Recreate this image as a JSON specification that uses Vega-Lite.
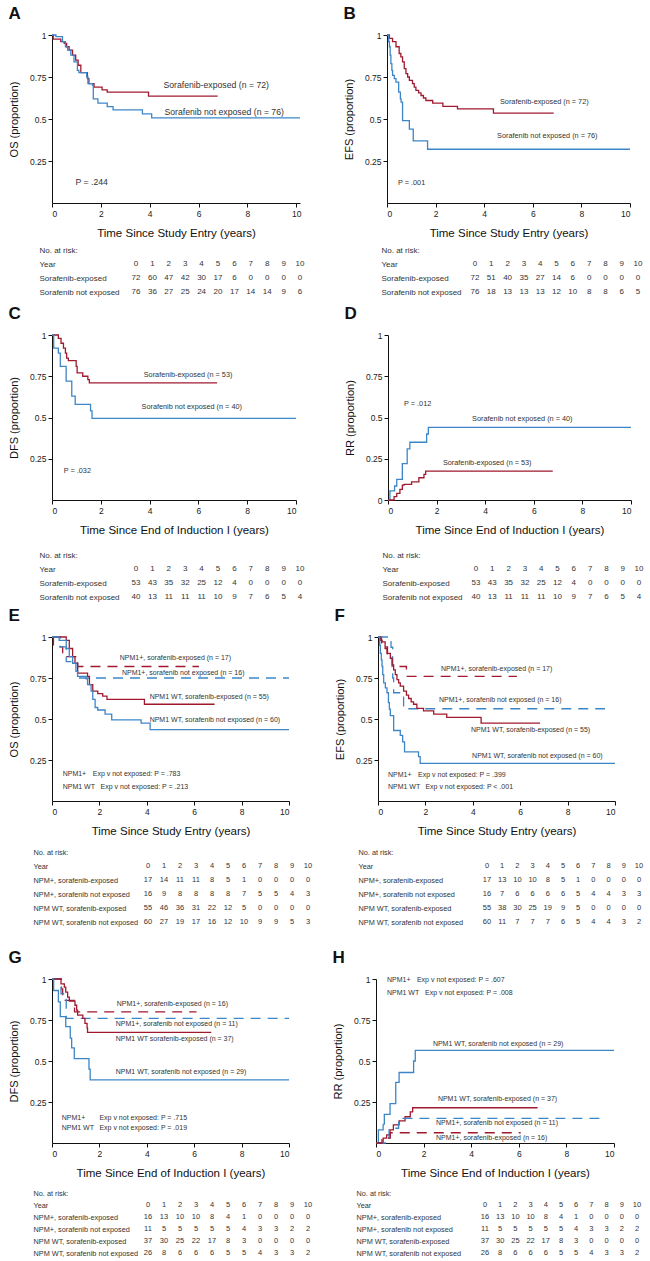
{
"$schema":"https://vega.github.io/schema/vega-lite/v6.json",
"background":"white",
"padding":{"left":8,"top":5,"right":0,"bottom":0},
"autosize":{"type":"pad"},
"datasets":{
"curves":[
{"p":"A","a":"exp","m":"all","t":0,"s":1},{"p":"A","a":"exp","m":"all","t":0.05,"s":0.975},{"p":"A","a":"exp","m":"all","t":0.36,"s":0.96},{"p":"A","a":"exp","m":"all","t":0.5,"s":0.95},{"p":"A","a":"exp","m":"all","t":0.6,"s":0.93},{"p":"A","a":"exp","m":"all","t":0.7,"s":0.91},{"p":"A","a":"exp","m":"all","t":0.84,"s":0.88},{"p":"A","a":"exp","m":"all","t":0.97,"s":0.85},{"p":"A","a":"exp","m":"all","t":1.07,"s":0.82},{"p":"A","a":"exp","m":"all","t":1.18,"s":0.776},{"p":"A","a":"exp","m":"all","t":1.45,"s":0.74},{"p":"A","a":"exp","m":"all","t":1.51,"s":0.71},{"p":"A","a":"exp","m":"all","t":1.72,"s":0.69},{"p":"A","a":"exp","m":"all","t":2.05,"s":0.673},{"p":"A","a":"exp","m":"all","t":2.26,"s":0.66},{"p":"A","a":"exp","m":"all","t":3.95,"s":0.636},{"p":"A","a":"exp","m":"all","t":6.78,"s":0.636},
{"p":"A","a":"not","m":"all","t":0,"s":1},{"p":"A","a":"not","m":"all","t":0.16,"s":0.99},{"p":"A","a":"not","m":"all","t":0.43,"s":0.96},{"p":"A","a":"not","m":"all","t":0.55,"s":0.93},{"p":"A","a":"not","m":"all","t":0.64,"s":0.91},{"p":"A","a":"not","m":"all","t":0.77,"s":0.88},{"p":"A","a":"not","m":"all","t":0.9,"s":0.84},{"p":"A","a":"not","m":"all","t":1.04,"s":0.79},{"p":"A","a":"not","m":"all","t":1.1,"s":0.776},{"p":"A","a":"not","m":"all","t":1.42,"s":0.75},{"p":"A","a":"not","m":"all","t":1.47,"s":0.71},{"p":"A","a":"not","m":"all","t":1.66,"s":0.7},{"p":"A","a":"not","m":"all","t":1.69,"s":0.62},{"p":"A","a":"not","m":"all","t":1.88,"s":0.594},{"p":"A","a":"not","m":"all","t":2.26,"s":0.574},{"p":"A","a":"not","m":"all","t":2.5,"s":0.554},{"p":"A","a":"not","m":"all","t":3.7,"s":0.53},{"p":"A","a":"not","m":"all","t":4.08,"s":0.507},{"p":"A","a":"not","m":"all","t":10.15,"s":0.507},
{"p":"B","a":"exp","m":"all","t":0,"s":1},{"p":"B","a":"exp","m":"all","t":0.1,"s":0.98},{"p":"B","a":"exp","m":"all","t":0.23,"s":0.96},{"p":"B","a":"exp","m":"all","t":0.37,"s":0.93},{"p":"B","a":"exp","m":"all","t":0.5,"s":0.89},{"p":"B","a":"exp","m":"all","t":0.57,"s":0.87},{"p":"B","a":"exp","m":"all","t":0.64,"s":0.84},{"p":"B","a":"exp","m":"all","t":0.71,"s":0.8},{"p":"B","a":"exp","m":"all","t":0.78,"s":0.77},{"p":"B","a":"exp","m":"all","t":0.85,"s":0.75},{"p":"B","a":"exp","m":"all","t":0.92,"s":0.73},{"p":"B","a":"exp","m":"all","t":1.05,"s":0.71},{"p":"B","a":"exp","m":"all","t":1.12,"s":0.69},{"p":"B","a":"exp","m":"all","t":1.19,"s":0.67},{"p":"B","a":"exp","m":"all","t":1.3,"s":0.655},{"p":"B","a":"exp","m":"all","t":1.4,"s":0.64},{"p":"B","a":"exp","m":"all","t":1.5,"s":0.625},{"p":"B","a":"exp","m":"all","t":1.6,"s":0.61},{"p":"B","a":"exp","m":"all","t":1.88,"s":0.595},{"p":"B","a":"exp","m":"all","t":2.3,"s":0.575},{"p":"B","a":"exp","m":"all","t":2.9,"s":0.56},{"p":"B","a":"exp","m":"all","t":4.38,"s":0.535},{"p":"B","a":"exp","m":"all","t":6.86,"s":0.535},
{"p":"B","a":"not","m":"all","t":0,"s":1},{"p":"B","a":"not","m":"all","t":0.07,"s":0.96},{"p":"B","a":"not","m":"all","t":0.1,"s":0.93},{"p":"B","a":"not","m":"all","t":0.13,"s":0.88},{"p":"B","a":"not","m":"all","t":0.16,"s":0.83},{"p":"B","a":"not","m":"all","t":0.2,"s":0.79},{"p":"B","a":"not","m":"all","t":0.23,"s":0.76},{"p":"B","a":"not","m":"all","t":0.3,"s":0.74},{"p":"B","a":"not","m":"all","t":0.37,"s":0.72},{"p":"B","a":"not","m":"all","t":0.48,"s":0.66},{"p":"B","a":"not","m":"all","t":0.55,"s":0.62},{"p":"B","a":"not","m":"all","t":0.58,"s":0.6},{"p":"B","a":"not","m":"all","t":0.64,"s":0.49},{"p":"B","a":"not","m":"all","t":0.92,"s":0.44},{"p":"B","a":"not","m":"all","t":1.08,"s":0.37},{"p":"B","a":"not","m":"all","t":1.67,"s":0.32},{"p":"B","a":"not","m":"all","t":10,"s":0.32},
{"p":"C","a":"exp","m":"all","t":0,"s":1},{"p":"C","a":"exp","m":"all","t":0.26,"s":0.98},{"p":"C","a":"exp","m":"all","t":0.37,"s":0.95},{"p":"C","a":"exp","m":"all","t":0.47,"s":0.92},{"p":"C","a":"exp","m":"all","t":0.55,"s":0.89},{"p":"C","a":"exp","m":"all","t":0.6,"s":0.86},{"p":"C","a":"exp","m":"all","t":0.67,"s":0.845},{"p":"C","a":"exp","m":"all","t":0.99,"s":0.81},{"p":"C","a":"exp","m":"all","t":1.03,"s":0.77},{"p":"C","a":"exp","m":"all","t":1.26,"s":0.75},{"p":"C","a":"exp","m":"all","t":1.47,"s":0.73},{"p":"C","a":"exp","m":"all","t":1.53,"s":0.71},{"p":"C","a":"exp","m":"all","t":6.77,"s":0.71},
{"p":"C","a":"not","m":"all","t":0,"s":1},{"p":"C","a":"not","m":"all","t":0.07,"s":0.92},{"p":"C","a":"not","m":"all","t":0.26,"s":0.89},{"p":"C","a":"not","m":"all","t":0.34,"s":0.81},{"p":"C","a":"not","m":"all","t":0.58,"s":0.72},{"p":"C","a":"not","m":"all","t":0.81,"s":0.63},{"p":"C","a":"not","m":"all","t":0.95,"s":0.58},{"p":"C","a":"not","m":"all","t":1.58,"s":0.54},{"p":"C","a":"not","m":"all","t":1.64,"s":0.495},{"p":"C","a":"not","m":"all","t":10,"s":0.495},
{"p":"D","a":"not","m":"all","t":0,"s":0},{"p":"D","a":"not","m":"all","t":0.08,"s":0.055},{"p":"D","a":"not","m":"all","t":0.27,"s":0.085},{"p":"D","a":"not","m":"all","t":0.36,"s":0.125},{"p":"D","a":"not","m":"all","t":0.59,"s":0.22},{"p":"D","a":"not","m":"all","t":0.79,"s":0.31},{"p":"D","a":"not","m":"all","t":0.9,"s":0.35},{"p":"D","a":"not","m":"all","t":1.59,"s":0.4},{"p":"D","a":"not","m":"all","t":1.66,"s":0.44},{"p":"D","a":"not","m":"all","t":10,"s":0.44},
{"p":"D","a":"exp","m":"all","t":0,"s":0},{"p":"D","a":"exp","m":"all","t":0.25,"s":0.02},{"p":"D","a":"exp","m":"all","t":0.36,"s":0.04},{"p":"D","a":"exp","m":"all","t":0.49,"s":0.065},{"p":"D","a":"exp","m":"all","t":0.59,"s":0.09},{"p":"D","a":"exp","m":"all","t":0.66,"s":0.095},{"p":"D","a":"exp","m":"all","t":0.97,"s":0.11},{"p":"D","a":"exp","m":"all","t":1.27,"s":0.135},{"p":"D","a":"exp","m":"all","t":1.48,"s":0.155},{"p":"D","a":"exp","m":"all","t":1.55,"s":0.175},{"p":"D","a":"exp","m":"all","t":6.78,"s":0.175},
{"p":"E","a":"exp","m":"pos","t":0,"s":1},{"p":"E","a":"exp","m":"pos","t":0.06,"s":0.94},{"p":"E","a":"exp","m":"pos","t":0.45,"s":0.88},{"p":"E","a":"exp","m":"pos","t":1.08,"s":0.82},{"p":"E","a":"exp","m":"pos","t":6.2,"s":0.82},
{"p":"E","a":"not","m":"pos","t":0,"s":1},{"p":"E","a":"not","m":"pos","t":0.35,"s":0.94},{"p":"E","a":"not","m":"pos","t":0.6,"s":0.85},{"p":"E","a":"not","m":"pos","t":1.08,"s":0.75},{"p":"E","a":"not","m":"pos","t":10,"s":0.75},
{"p":"E","a":"exp","m":"wt","t":0,"s":1},{"p":"E","a":"exp","m":"wt","t":0.6,"s":0.98},{"p":"E","a":"exp","m":"wt","t":0.73,"s":0.93},{"p":"E","a":"exp","m":"wt","t":0.87,"s":0.88},{"p":"E","a":"exp","m":"wt","t":0.97,"s":0.84},{"p":"E","a":"exp","m":"wt","t":1.08,"s":0.78},{"p":"E","a":"exp","m":"wt","t":1.5,"s":0.76},{"p":"E","a":"exp","m":"wt","t":1.58,"s":0.71},{"p":"E","a":"exp","m":"wt","t":1.72,"s":0.67},{"p":"E","a":"exp","m":"wt","t":1.93,"s":0.655},{"p":"E","a":"exp","m":"wt","t":2.14,"s":0.64},{"p":"E","a":"exp","m":"wt","t":2.32,"s":0.62},{"p":"E","a":"exp","m":"wt","t":3.9,"s":0.59},{"p":"E","a":"exp","m":"wt","t":6.86,"s":0.59},
{"p":"E","a":"not","m":"wt","t":0,"s":1},{"p":"E","a":"not","m":"wt","t":0.3,"s":0.98},{"p":"E","a":"not","m":"wt","t":0.6,"s":0.93},{"p":"E","a":"not","m":"wt","t":0.73,"s":0.88},{"p":"E","a":"not","m":"wt","t":0.87,"s":0.84},{"p":"E","a":"not","m":"wt","t":1.01,"s":0.79},{"p":"E","a":"not","m":"wt","t":1.08,"s":0.76},{"p":"E","a":"not","m":"wt","t":1.44,"s":0.745},{"p":"E","a":"not","m":"wt","t":1.5,"s":0.71},{"p":"E","a":"not","m":"wt","t":1.65,"s":0.67},{"p":"E","a":"not","m":"wt","t":1.72,"s":0.62},{"p":"E","a":"not","m":"wt","t":1.82,"s":0.57},{"p":"E","a":"not","m":"wt","t":1.93,"s":0.555},{"p":"E","a":"not","m":"wt","t":2.24,"s":0.53},{"p":"E","a":"not","m":"wt","t":2.52,"s":0.495},{"p":"E","a":"not","m":"wt","t":3.76,"s":0.475},{"p":"E","a":"not","m":"wt","t":4.14,"s":0.435},{"p":"E","a":"not","m":"wt","t":10,"s":0.435},
{"p":"F","a":"exp","m":"pos","t":0,"s":1},{"p":"F","a":"exp","m":"pos","t":0.15,"s":0.94},{"p":"F","a":"exp","m":"pos","t":0.4,"s":0.88},{"p":"F","a":"exp","m":"pos","t":0.6,"s":0.82},{"p":"F","a":"exp","m":"pos","t":1.2,"s":0.76},{"p":"F","a":"exp","m":"pos","t":5.86,"s":0.76},
{"p":"F","a":"not","m":"pos","t":0,"s":1},{"p":"F","a":"not","m":"pos","t":0.55,"s":0.9375},{"p":"F","a":"not","m":"pos","t":0.62,"s":0.75},{"p":"F","a":"not","m":"pos","t":0.66,"s":0.66},{"p":"F","a":"not","m":"pos","t":1.08,"s":0.5625},{"p":"F","a":"not","m":"pos","t":9.58,"s":0.5625},
{"p":"F","a":"exp","m":"wt","t":0,"s":1},{"p":"F","a":"exp","m":"wt","t":0.1,"s":0.98},{"p":"F","a":"exp","m":"wt","t":0.17,"s":0.97},{"p":"F","a":"exp","m":"wt","t":0.3,"s":0.93},{"p":"F","a":"exp","m":"wt","t":0.38,"s":0.9},{"p":"F","a":"exp","m":"wt","t":0.52,"s":0.87},{"p":"F","a":"exp","m":"wt","t":0.6,"s":0.83},{"p":"F","a":"exp","m":"wt","t":0.66,"s":0.8},{"p":"F","a":"exp","m":"wt","t":0.73,"s":0.77},{"p":"F","a":"exp","m":"wt","t":0.8,"s":0.74},{"p":"F","a":"exp","m":"wt","t":0.87,"s":0.72},{"p":"F","a":"exp","m":"wt","t":0.94,"s":0.7},{"p":"F","a":"exp","m":"wt","t":1.08,"s":0.67},{"p":"F","a":"exp","m":"wt","t":1.2,"s":0.645},{"p":"F","a":"exp","m":"wt","t":1.29,"s":0.625},{"p":"F","a":"exp","m":"wt","t":1.4,"s":0.605},{"p":"F","a":"exp","m":"wt","t":1.5,"s":0.59},{"p":"F","a":"exp","m":"wt","t":1.64,"s":0.565},{"p":"F","a":"exp","m":"wt","t":1.92,"s":0.55},{"p":"F","a":"exp","m":"wt","t":2.35,"s":0.53},{"p":"F","a":"exp","m":"wt","t":2.9,"s":0.51},{"p":"F","a":"exp","m":"wt","t":4.35,"s":0.475},{"p":"F","a":"exp","m":"wt","t":6.84,"s":0.475},
{"p":"F","a":"not","m":"wt","t":0,"s":1},{"p":"F","a":"not","m":"wt","t":0.07,"s":0.95},{"p":"F","a":"not","m":"wt","t":0.1,"s":0.9},{"p":"F","a":"not","m":"wt","t":0.14,"s":0.86},{"p":"F","a":"not","m":"wt","t":0.17,"s":0.82},{"p":"F","a":"not","m":"wt","t":0.2,"s":0.77},{"p":"F","a":"not","m":"wt","t":0.24,"s":0.72},{"p":"F","a":"not","m":"wt","t":0.31,"s":0.69},{"p":"F","a":"not","m":"wt","t":0.38,"s":0.66},{"p":"F","a":"not","m":"wt","t":0.44,"s":0.6},{"p":"F","a":"not","m":"wt","t":0.48,"s":0.56},{"p":"F","a":"not","m":"wt","t":0.52,"s":0.52},{"p":"F","a":"not","m":"wt","t":0.66,"s":0.43},{"p":"F","a":"not","m":"wt","t":0.94,"s":0.4},{"p":"F","a":"not","m":"wt","t":1.04,"s":0.36},{"p":"F","a":"not","m":"wt","t":1.12,"s":0.3},{"p":"F","a":"not","m":"wt","t":1.71,"s":0.27},{"p":"F","a":"not","m":"wt","t":1.78,"s":0.23},{"p":"F","a":"not","m":"wt","t":10,"s":0.23},
{"p":"G","a":"exp","m":"pos","t":0,"s":1},{"p":"G","a":"exp","m":"pos","t":0.4,"s":0.94},{"p":"G","a":"exp","m":"pos","t":0.45,"s":0.87},{"p":"G","a":"exp","m":"pos","t":0.95,"s":0.8},{"p":"G","a":"exp","m":"pos","t":6.1,"s":0.8},
{"p":"G","a":"not","m":"pos","t":0,"s":1},{"p":"G","a":"not","m":"pos","t":0.38,"s":0.91},{"p":"G","a":"not","m":"pos","t":0.6,"s":0.76},{"p":"G","a":"not","m":"pos","t":10,"s":0.76},
{"p":"G","a":"exp","m":"wt","t":0,"s":1},{"p":"G","a":"exp","m":"wt","t":0.38,"s":0.97},{"p":"G","a":"exp","m":"wt","t":0.52,"s":0.95},{"p":"G","a":"exp","m":"wt","t":0.58,"s":0.92},{"p":"G","a":"exp","m":"wt","t":0.66,"s":0.89},{"p":"G","a":"exp","m":"wt","t":0.73,"s":0.865},{"p":"G","a":"exp","m":"wt","t":0.97,"s":0.84},{"p":"G","a":"exp","m":"wt","t":1.04,"s":0.81},{"p":"G","a":"exp","m":"wt","t":1.08,"s":0.78},{"p":"G","a":"exp","m":"wt","t":1.3,"s":0.76},{"p":"G","a":"exp","m":"wt","t":1.39,"s":0.73},{"p":"G","a":"exp","m":"wt","t":1.48,"s":0.7},{"p":"G","a":"exp","m":"wt","t":1.5,"s":0.675},{"p":"G","a":"exp","m":"wt","t":6.72,"s":0.675},
{"p":"G","a":"not","m":"wt","t":0,"s":1},{"p":"G","a":"not","m":"wt","t":0.07,"s":0.93},{"p":"G","a":"not","m":"wt","t":0.27,"s":0.86},{"p":"G","a":"not","m":"wt","t":0.35,"s":0.77},{"p":"G","a":"not","m":"wt","t":0.58,"s":0.71},{"p":"G","a":"not","m":"wt","t":0.77,"s":0.64},{"p":"G","a":"not","m":"wt","t":0.83,"s":0.58},{"p":"G","a":"not","m":"wt","t":0.94,"s":0.515},{"p":"G","a":"not","m":"wt","t":1.56,"s":0.45},{"p":"G","a":"not","m":"wt","t":1.61,"s":0.385},{"p":"G","a":"not","m":"wt","t":10,"s":0.385},
{"p":"H","a":"not","m":"wt","t":0,"s":0},{"p":"H","a":"not","m":"wt","t":0.1,"s":0.08},{"p":"H","a":"not","m":"wt","t":0.3,"s":0.115},{"p":"H","a":"not","m":"wt","t":0.35,"s":0.175},{"p":"H","a":"not","m":"wt","t":0.59,"s":0.24},{"p":"H","a":"not","m":"wt","t":0.83,"s":0.37},{"p":"H","a":"not","m":"wt","t":0.97,"s":0.43},{"p":"H","a":"not","m":"wt","t":1.58,"s":0.5},{"p":"H","a":"not","m":"wt","t":1.65,"s":0.565},{"p":"H","a":"not","m":"wt","t":10,"s":0.565},
{"p":"H","a":"exp","m":"wt","t":0,"s":0},{"p":"H","a":"exp","m":"wt","t":0.3,"s":0.03},{"p":"H","a":"exp","m":"wt","t":0.45,"s":0.05},{"p":"H","a":"exp","m":"wt","t":0.59,"s":0.08},{"p":"H","a":"exp","m":"wt","t":0.73,"s":0.11},{"p":"H","a":"exp","m":"wt","t":0.97,"s":0.135},{"p":"H","a":"exp","m":"wt","t":1.22,"s":0.16},{"p":"H","a":"exp","m":"wt","t":1.44,"s":0.19},{"p":"H","a":"exp","m":"wt","t":1.54,"s":0.215},{"p":"H","a":"exp","m":"wt","t":6.79,"s":0.215},
{"p":"H","a":"not","m":"pos","t":0,"s":0},{"p":"H","a":"not","m":"pos","t":0.55,"s":0.09},{"p":"H","a":"not","m":"pos","t":0.95,"s":0.15},{"p":"H","a":"not","m":"pos","t":9.6,"s":0.15},
{"p":"H","a":"exp","m":"pos","t":0,"s":0},{"p":"H","a":"exp","m":"pos","t":0.25,"s":0.03},{"p":"H","a":"exp","m":"pos","t":0.6,"s":0.0625},{"p":"H","a":"exp","m":"pos","t":6.08,"s":0.0625}
],
"notes":[
{"p":"A","t":4.56,"s":0.703,"label":"Sorafenib-exposed (n = 72)"},{"p":"A","t":4.6,"s":0.543,"label":"Sorafenib not exposed (n = 76)"},{"p":"A","t":0.96,"s":0.127,"label":"P = .244"},
{"p":"B","t":4.65,"s":0.604,"label":"Sorafenib-exposed (n = 72)"},{"p":"B","t":4.53,"s":0.4,"label":"Sorafenib not exposed (n = 76)"},{"p":"B","t":0.45,"s":0.12,"label":"P = .001"},
{"p":"C","t":3.76,"s":0.758,"label":"Sorafenib-exposed (n = 53)"},{"p":"C","t":3.67,"s":0.564,"label":"Sorafenib not exposed (n = 40)"},{"p":"C","t":0.48,"s":0.176,"label":"P = .032"},
{"p":"D","t":0.66,"s":0.584,"label":"P = .012"},{"p":"D","t":3.46,"s":0.488,"label":"Sorafenib not exposed (n = 40)"},{"p":"D","t":2.26,"s":0.223,"label":"Sorafenib-exposed (n = 53)"},
{"p":"E","t":2.86,"s":0.87,"label":"NPM1+, sorafenib-exposed (n = 17)"},{"p":"E","t":2.95,"s":0.778,"label":"NPM1+, sorafenib not exposed (n = 16)"},{"p":"E","t":4.12,"s":0.636,"label":"NPM1 WT, sorafenib-exposed (n = 55)"},{"p":"E","t":4.12,"s":0.494,"label":"NPM1 WT, sorafenib not exposed (n = 60)"},{"p":"E","t":0.45,"s":0.167,"label":"NPM1+"},{"p":"E","t":1.72,"s":0.167,"label":"Exp v not exposed: P = .783"},{"p":"E","t":0.45,"s":0.086,"label":"NPM1 WT"},{"p":"E","t":2.05,"s":0.086,"label":"Exp v not exposed: P = .213"},
{"p":"F","t":2.66,"s":0.807,"label":"NPM1+, sorafenib-exposed (n = 17)"},{"p":"F","t":2.57,"s":0.614,"label":"NPM1+, sorafenib not exposed (n = 16)"},{"p":"F","t":3.92,"s":0.434,"label":"NPM1 WT, sorafenib-exposed (n = 55)"},{"p":"F","t":3.97,"s":0.277,"label":"NPM1 WT, sorafenib not exposed (n = 60)"},{"p":"F","t":0.42,"s":0.157,"label":"NPM1+"},{"p":"F","t":1.69,"s":0.157,"label":"Exp v not exposed: P = .399"},{"p":"F","t":0.42,"s":0.084,"label":"NPM1  WT"},{"p":"F","t":2.0,"s":0.084,"label":"Exp v not exposed: P < .001"},
{"p":"G","t":2.73,"s":0.848,"label":"NPM1+, sorafenib-exposed (n = 16)"},{"p":"G","t":2.69,"s":0.726,"label":"NPM1+, sorafenib not exposed (n = 11)"},{"p":"G","t":2.69,"s":0.634,"label":"NPM1 WT sorafenib-exposed (n = 37)"},{"p":"G","t":2.69,"s":0.433,"label":"NPM1 WT, sorafenib not exposed (n = 29)"},{"p":"G","t":0.41,"s":0.152,"label":"NPM1+"},{"p":"G","t":2.0,"s":0.152,"label":"Exp v not exposed: P = .715"},{"p":"G","t":0.41,"s":0.091,"label":"NPM1 WT"},{"p":"G","t":2.0,"s":0.091,"label":"Exp v not exposed: P = .019"},
{"p":"H","t":0.46,"s":0.994,"label":"NPM1+"},{"p":"H","t":1.72,"s":0.994,"label":"Exp v not exposed: P = .607"},{"p":"H","t":0.46,"s":0.915,"label":"NPM1 WT"},{"p":"H","t":2.06,"s":0.915,"label":"Exp v not exposed: P = .008"},{"p":"H","t":2.39,"s":0.604,"label":"NPM1 WT, sorafenib not exposed (n = 29)"},{"p":"H","t":2.6,"s":0.268,"label":"NPM1 WT, sorafenib-exposed (n = 37)"},{"p":"H","t":2.52,"s":0.122,"label":"NPM1+, sorafenib not exposed (n = 11)"},{"p":"H","t":2.52,"s":0.03,"label":"NPM1+, sorafenib-exposed (n = 16)"}
],
"years":[
{"r":"Year","yr":0,"n":0},{"r":"Year","yr":1,"n":1},{"r":"Year","yr":2,"n":2},{"r":"Year","yr":3,"n":3},{"r":"Year","yr":4,"n":4},{"r":"Year","yr":5,"n":5},{"r":"Year","yr":6,"n":6},{"r":"Year","yr":7,"n":7},{"r":"Year","yr":8,"n":8},{"r":"Year","yr":9,"n":9},{"r":"Year","yr":10,"n":10}
],
"risk":[
{"p":"A","r":"Sorafenib-exposed","yr":0,"n":72},{"p":"A","r":"Sorafenib-exposed","yr":1,"n":60},{"p":"A","r":"Sorafenib-exposed","yr":2,"n":47},{"p":"A","r":"Sorafenib-exposed","yr":3,"n":42},{"p":"A","r":"Sorafenib-exposed","yr":4,"n":30},{"p":"A","r":"Sorafenib-exposed","yr":5,"n":17},{"p":"A","r":"Sorafenib-exposed","yr":6,"n":6},{"p":"A","r":"Sorafenib-exposed","yr":7,"n":0},{"p":"A","r":"Sorafenib-exposed","yr":8,"n":0},{"p":"A","r":"Sorafenib-exposed","yr":9,"n":0},{"p":"A","r":"Sorafenib-exposed","yr":10,"n":0},
{"p":"A","r":"Sorafenib not exposed","yr":0,"n":76},{"p":"A","r":"Sorafenib not exposed","yr":1,"n":36},{"p":"A","r":"Sorafenib not exposed","yr":2,"n":27},{"p":"A","r":"Sorafenib not exposed","yr":3,"n":25},{"p":"A","r":"Sorafenib not exposed","yr":4,"n":24},{"p":"A","r":"Sorafenib not exposed","yr":5,"n":20},{"p":"A","r":"Sorafenib not exposed","yr":6,"n":17},{"p":"A","r":"Sorafenib not exposed","yr":7,"n":14},{"p":"A","r":"Sorafenib not exposed","yr":8,"n":14},{"p":"A","r":"Sorafenib not exposed","yr":9,"n":9},{"p":"A","r":"Sorafenib not exposed","yr":10,"n":6},
{"p":"B","r":"Sorafenib-exposed","yr":0,"n":72},{"p":"B","r":"Sorafenib-exposed","yr":1,"n":51},{"p":"B","r":"Sorafenib-exposed","yr":2,"n":40},{"p":"B","r":"Sorafenib-exposed","yr":3,"n":35},{"p":"B","r":"Sorafenib-exposed","yr":4,"n":27},{"p":"B","r":"Sorafenib-exposed","yr":5,"n":14},{"p":"B","r":"Sorafenib-exposed","yr":6,"n":6},{"p":"B","r":"Sorafenib-exposed","yr":7,"n":0},{"p":"B","r":"Sorafenib-exposed","yr":8,"n":0},{"p":"B","r":"Sorafenib-exposed","yr":9,"n":0},{"p":"B","r":"Sorafenib-exposed","yr":10,"n":0},
{"p":"B","r":"Sorafenib not exposed","yr":0,"n":76},{"p":"B","r":"Sorafenib not exposed","yr":1,"n":18},{"p":"B","r":"Sorafenib not exposed","yr":2,"n":13},{"p":"B","r":"Sorafenib not exposed","yr":3,"n":13},{"p":"B","r":"Sorafenib not exposed","yr":4,"n":13},{"p":"B","r":"Sorafenib not exposed","yr":5,"n":12},{"p":"B","r":"Sorafenib not exposed","yr":6,"n":10},{"p":"B","r":"Sorafenib not exposed","yr":7,"n":8},{"p":"B","r":"Sorafenib not exposed","yr":8,"n":8},{"p":"B","r":"Sorafenib not exposed","yr":9,"n":6},{"p":"B","r":"Sorafenib not exposed","yr":10,"n":5},
{"p":"C","r":"Sorafenib-exposed","yr":0,"n":53},{"p":"C","r":"Sorafenib-exposed","yr":1,"n":43},{"p":"C","r":"Sorafenib-exposed","yr":2,"n":35},{"p":"C","r":"Sorafenib-exposed","yr":3,"n":32},{"p":"C","r":"Sorafenib-exposed","yr":4,"n":25},{"p":"C","r":"Sorafenib-exposed","yr":5,"n":12},{"p":"C","r":"Sorafenib-exposed","yr":6,"n":4},{"p":"C","r":"Sorafenib-exposed","yr":7,"n":0},{"p":"C","r":"Sorafenib-exposed","yr":8,"n":0},{"p":"C","r":"Sorafenib-exposed","yr":9,"n":0},{"p":"C","r":"Sorafenib-exposed","yr":10,"n":0},
{"p":"C","r":"Sorafenib not exposed","yr":0,"n":40},{"p":"C","r":"Sorafenib not exposed","yr":1,"n":13},{"p":"C","r":"Sorafenib not exposed","yr":2,"n":11},{"p":"C","r":"Sorafenib not exposed","yr":3,"n":11},{"p":"C","r":"Sorafenib not exposed","yr":4,"n":11},{"p":"C","r":"Sorafenib not exposed","yr":5,"n":10},{"p":"C","r":"Sorafenib not exposed","yr":6,"n":9},{"p":"C","r":"Sorafenib not exposed","yr":7,"n":7},{"p":"C","r":"Sorafenib not exposed","yr":8,"n":6},{"p":"C","r":"Sorafenib not exposed","yr":9,"n":5},{"p":"C","r":"Sorafenib not exposed","yr":10,"n":4},
{"p":"D","r":"Sorafenib-exposed","yr":0,"n":53},{"p":"D","r":"Sorafenib-exposed","yr":1,"n":43},{"p":"D","r":"Sorafenib-exposed","yr":2,"n":35},{"p":"D","r":"Sorafenib-exposed","yr":3,"n":32},{"p":"D","r":"Sorafenib-exposed","yr":4,"n":25},{"p":"D","r":"Sorafenib-exposed","yr":5,"n":12},{"p":"D","r":"Sorafenib-exposed","yr":6,"n":4},{"p":"D","r":"Sorafenib-exposed","yr":7,"n":0},{"p":"D","r":"Sorafenib-exposed","yr":8,"n":0},{"p":"D","r":"Sorafenib-exposed","yr":9,"n":0},{"p":"D","r":"Sorafenib-exposed","yr":10,"n":0},
{"p":"D","r":"Sorafenib not exposed","yr":0,"n":40},{"p":"D","r":"Sorafenib not exposed","yr":1,"n":13},{"p":"D","r":"Sorafenib not exposed","yr":2,"n":11},{"p":"D","r":"Sorafenib not exposed","yr":3,"n":11},{"p":"D","r":"Sorafenib not exposed","yr":4,"n":11},{"p":"D","r":"Sorafenib not exposed","yr":5,"n":10},{"p":"D","r":"Sorafenib not exposed","yr":6,"n":9},{"p":"D","r":"Sorafenib not exposed","yr":7,"n":7},{"p":"D","r":"Sorafenib not exposed","yr":8,"n":6},{"p":"D","r":"Sorafenib not exposed","yr":9,"n":5},{"p":"D","r":"Sorafenib not exposed","yr":10,"n":4},
{"p":"E","r":"NPM+, sorafenib-exposed","yr":0,"n":17},{"p":"E","r":"NPM+, sorafenib-exposed","yr":1,"n":14},{"p":"E","r":"NPM+, sorafenib-exposed","yr":2,"n":11},{"p":"E","r":"NPM+, sorafenib-exposed","yr":3,"n":11},{"p":"E","r":"NPM+, sorafenib-exposed","yr":4,"n":8},{"p":"E","r":"NPM+, sorafenib-exposed","yr":5,"n":5},{"p":"E","r":"NPM+, sorafenib-exposed","yr":6,"n":1},{"p":"E","r":"NPM+, sorafenib-exposed","yr":7,"n":0},{"p":"E","r":"NPM+, sorafenib-exposed","yr":8,"n":0},{"p":"E","r":"NPM+, sorafenib-exposed","yr":9,"n":0},{"p":"E","r":"NPM+, sorafenib-exposed","yr":10,"n":0},
{"p":"E","r":"NPM+, sorafenib not exposed","yr":0,"n":16},{"p":"E","r":"NPM+, sorafenib not exposed","yr":1,"n":9},{"p":"E","r":"NPM+, sorafenib not exposed","yr":2,"n":8},{"p":"E","r":"NPM+, sorafenib not exposed","yr":3,"n":8},{"p":"E","r":"NPM+, sorafenib not exposed","yr":4,"n":8},{"p":"E","r":"NPM+, sorafenib not exposed","yr":5,"n":8},{"p":"E","r":"NPM+, sorafenib not exposed","yr":6,"n":7},{"p":"E","r":"NPM+, sorafenib not exposed","yr":7,"n":5},{"p":"E","r":"NPM+, sorafenib not exposed","yr":8,"n":5},{"p":"E","r":"NPM+, sorafenib not exposed","yr":9,"n":4},{"p":"E","r":"NPM+, sorafenib not exposed","yr":10,"n":3},
{"p":"E","r":"NPM WT, sorafenib-exposed","yr":0,"n":55},{"p":"E","r":"NPM WT, sorafenib-exposed","yr":1,"n":46},{"p":"E","r":"NPM WT, sorafenib-exposed","yr":2,"n":36},{"p":"E","r":"NPM WT, sorafenib-exposed","yr":3,"n":31},{"p":"E","r":"NPM WT, sorafenib-exposed","yr":4,"n":22},{"p":"E","r":"NPM WT, sorafenib-exposed","yr":5,"n":12},{"p":"E","r":"NPM WT, sorafenib-exposed","yr":6,"n":5},{"p":"E","r":"NPM WT, sorafenib-exposed","yr":7,"n":0},{"p":"E","r":"NPM WT, sorafenib-exposed","yr":8,"n":0},{"p":"E","r":"NPM WT, sorafenib-exposed","yr":9,"n":0},{"p":"E","r":"NPM WT, sorafenib-exposed","yr":10,"n":0},
{"p":"E","r":"NPM WT, sorafenib not exposed","yr":0,"n":60},{"p":"E","r":"NPM WT, sorafenib not exposed","yr":1,"n":27},{"p":"E","r":"NPM WT, sorafenib not exposed","yr":2,"n":19},{"p":"E","r":"NPM WT, sorafenib not exposed","yr":3,"n":17},{"p":"E","r":"NPM WT, sorafenib not exposed","yr":4,"n":16},{"p":"E","r":"NPM WT, sorafenib not exposed","yr":5,"n":12},{"p":"E","r":"NPM WT, sorafenib not exposed","yr":6,"n":10},{"p":"E","r":"NPM WT, sorafenib not exposed","yr":7,"n":9},{"p":"E","r":"NPM WT, sorafenib not exposed","yr":8,"n":9},{"p":"E","r":"NPM WT, sorafenib not exposed","yr":9,"n":5},{"p":"E","r":"NPM WT, sorafenib not exposed","yr":10,"n":3},
{"p":"F","r":"NPM+, sorafenib-exposed","yr":0,"n":17},{"p":"F","r":"NPM+, sorafenib-exposed","yr":1,"n":13},{"p":"F","r":"NPM+, sorafenib-exposed","yr":2,"n":10},{"p":"F","r":"NPM+, sorafenib-exposed","yr":3,"n":10},{"p":"F","r":"NPM+, sorafenib-exposed","yr":4,"n":8},{"p":"F","r":"NPM+, sorafenib-exposed","yr":5,"n":5},{"p":"F","r":"NPM+, sorafenib-exposed","yr":6,"n":1},{"p":"F","r":"NPM+, sorafenib-exposed","yr":7,"n":0},{"p":"F","r":"NPM+, sorafenib-exposed","yr":8,"n":0},{"p":"F","r":"NPM+, sorafenib-exposed","yr":9,"n":0},{"p":"F","r":"NPM+, sorafenib-exposed","yr":10,"n":0},
{"p":"F","r":"NPM+, sorafenib not exposed","yr":0,"n":16},{"p":"F","r":"NPM+, sorafenib not exposed","yr":1,"n":7},{"p":"F","r":"NPM+, sorafenib not exposed","yr":2,"n":6},{"p":"F","r":"NPM+, sorafenib not exposed","yr":3,"n":6},{"p":"F","r":"NPM+, sorafenib not exposed","yr":4,"n":6},{"p":"F","r":"NPM+, sorafenib not exposed","yr":5,"n":6},{"p":"F","r":"NPM+, sorafenib not exposed","yr":6,"n":5},{"p":"F","r":"NPM+, sorafenib not exposed","yr":7,"n":4},{"p":"F","r":"NPM+, sorafenib not exposed","yr":8,"n":4},{"p":"F","r":"NPM+, sorafenib not exposed","yr":9,"n":3},{"p":"F","r":"NPM+, sorafenib not exposed","yr":10,"n":3},
{"p":"F","r":"NPM WT, sorafenib-exposed","yr":0,"n":55},{"p":"F","r":"NPM WT, sorafenib-exposed","yr":1,"n":38},{"p":"F","r":"NPM WT, sorafenib-exposed","yr":2,"n":30},{"p":"F","r":"NPM WT, sorafenib-exposed","yr":3,"n":25},{"p":"F","r":"NPM WT, sorafenib-exposed","yr":4,"n":19},{"p":"F","r":"NPM WT, sorafenib-exposed","yr":5,"n":9},{"p":"F","r":"NPM WT, sorafenib-exposed","yr":6,"n":5},{"p":"F","r":"NPM WT, sorafenib-exposed","yr":7,"n":0},{"p":"F","r":"NPM WT, sorafenib-exposed","yr":8,"n":0},{"p":"F","r":"NPM WT, sorafenib-exposed","yr":9,"n":0},{"p":"F","r":"NPM WT, sorafenib-exposed","yr":10,"n":0},
{"p":"F","r":"NPM WT, sorafenib not exposed","yr":0,"n":60},{"p":"F","r":"NPM WT, sorafenib not exposed","yr":1,"n":11},{"p":"F","r":"NPM WT, sorafenib not exposed","yr":2,"n":7},{"p":"F","r":"NPM WT, sorafenib not exposed","yr":3,"n":7},{"p":"F","r":"NPM WT, sorafenib not exposed","yr":4,"n":7},{"p":"F","r":"NPM WT, sorafenib not exposed","yr":5,"n":6},{"p":"F","r":"NPM WT, sorafenib not exposed","yr":6,"n":5},{"p":"F","r":"NPM WT, sorafenib not exposed","yr":7,"n":4},{"p":"F","r":"NPM WT, sorafenib not exposed","yr":8,"n":4},{"p":"F","r":"NPM WT, sorafenib not exposed","yr":9,"n":3},{"p":"F","r":"NPM WT, sorafenib not exposed","yr":10,"n":2},
{"p":"G","r":"NPM+, sorafenib-exposed","yr":0,"n":16},{"p":"G","r":"NPM+, sorafenib-exposed","yr":1,"n":13},{"p":"G","r":"NPM+, sorafenib-exposed","yr":2,"n":10},{"p":"G","r":"NPM+, sorafenib-exposed","yr":3,"n":10},{"p":"G","r":"NPM+, sorafenib-exposed","yr":4,"n":8},{"p":"G","r":"NPM+, sorafenib-exposed","yr":5,"n":4},{"p":"G","r":"NPM+, sorafenib-exposed","yr":6,"n":1},{"p":"G","r":"NPM+, sorafenib-exposed","yr":7,"n":0},{"p":"G","r":"NPM+, sorafenib-exposed","yr":8,"n":0},{"p":"G","r":"NPM+, sorafenib-exposed","yr":9,"n":0},{"p":"G","r":"NPM+, sorafenib-exposed","yr":10,"n":0},
{"p":"G","r":"NPM+, sorafenib not exposed","yr":0,"n":11},{"p":"G","r":"NPM+, sorafenib not exposed","yr":1,"n":5},{"p":"G","r":"NPM+, sorafenib not exposed","yr":2,"n":5},{"p":"G","r":"NPM+, sorafenib not exposed","yr":3,"n":5},{"p":"G","r":"NPM+, sorafenib not exposed","yr":4,"n":5},{"p":"G","r":"NPM+, sorafenib not exposed","yr":5,"n":5},{"p":"G","r":"NPM+, sorafenib not exposed","yr":6,"n":4},{"p":"G","r":"NPM+, sorafenib not exposed","yr":7,"n":3},{"p":"G","r":"NPM+, sorafenib not exposed","yr":8,"n":3},{"p":"G","r":"NPM+, sorafenib not exposed","yr":9,"n":2},{"p":"G","r":"NPM+, sorafenib not exposed","yr":10,"n":2},
{"p":"G","r":"NPM WT, sorafenib-exposed","yr":0,"n":37},{"p":"G","r":"NPM WT, sorafenib-exposed","yr":1,"n":30},{"p":"G","r":"NPM WT, sorafenib-exposed","yr":2,"n":25},{"p":"G","r":"NPM WT, sorafenib-exposed","yr":3,"n":22},{"p":"G","r":"NPM WT, sorafenib-exposed","yr":4,"n":17},{"p":"G","r":"NPM WT, sorafenib-exposed","yr":5,"n":8},{"p":"G","r":"NPM WT, sorafenib-exposed","yr":6,"n":3},{"p":"G","r":"NPM WT, sorafenib-exposed","yr":7,"n":0},{"p":"G","r":"NPM WT, sorafenib-exposed","yr":8,"n":0},{"p":"G","r":"NPM WT, sorafenib-exposed","yr":9,"n":0},{"p":"G","r":"NPM WT, sorafenib-exposed","yr":10,"n":0},
{"p":"G","r":"NPM WT, sorafenib not exposed","yr":0,"n":26},{"p":"G","r":"NPM WT, sorafenib not exposed","yr":1,"n":8},{"p":"G","r":"NPM WT, sorafenib not exposed","yr":2,"n":6},{"p":"G","r":"NPM WT, sorafenib not exposed","yr":3,"n":6},{"p":"G","r":"NPM WT, sorafenib not exposed","yr":4,"n":6},{"p":"G","r":"NPM WT, sorafenib not exposed","yr":5,"n":5},{"p":"G","r":"NPM WT, sorafenib not exposed","yr":6,"n":5},{"p":"G","r":"NPM WT, sorafenib not exposed","yr":7,"n":4},{"p":"G","r":"NPM WT, sorafenib not exposed","yr":8,"n":3},{"p":"G","r":"NPM WT, sorafenib not exposed","yr":9,"n":3},{"p":"G","r":"NPM WT, sorafenib not exposed","yr":10,"n":2},
{"p":"H","r":"NPM+, sorafenib-exposed","yr":0,"n":16},{"p":"H","r":"NPM+, sorafenib-exposed","yr":1,"n":13},{"p":"H","r":"NPM+, sorafenib-exposed","yr":2,"n":10},{"p":"H","r":"NPM+, sorafenib-exposed","yr":3,"n":10},{"p":"H","r":"NPM+, sorafenib-exposed","yr":4,"n":8},{"p":"H","r":"NPM+, sorafenib-exposed","yr":5,"n":4},{"p":"H","r":"NPM+, sorafenib-exposed","yr":6,"n":1},{"p":"H","r":"NPM+, sorafenib-exposed","yr":7,"n":0},{"p":"H","r":"NPM+, sorafenib-exposed","yr":8,"n":0},{"p":"H","r":"NPM+, sorafenib-exposed","yr":9,"n":0},{"p":"H","r":"NPM+, sorafenib-exposed","yr":10,"n":0},
{"p":"H","r":"NPM+, sorafenib not exposed","yr":0,"n":11},{"p":"H","r":"NPM+, sorafenib not exposed","yr":1,"n":5},{"p":"H","r":"NPM+, sorafenib not exposed","yr":2,"n":5},{"p":"H","r":"NPM+, sorafenib not exposed","yr":3,"n":5},{"p":"H","r":"NPM+, sorafenib not exposed","yr":4,"n":5},{"p":"H","r":"NPM+, sorafenib not exposed","yr":5,"n":5},{"p":"H","r":"NPM+, sorafenib not exposed","yr":6,"n":4},{"p":"H","r":"NPM+, sorafenib not exposed","yr":7,"n":3},{"p":"H","r":"NPM+, sorafenib not exposed","yr":8,"n":3},{"p":"H","r":"NPM+, sorafenib not exposed","yr":9,"n":2},{"p":"H","r":"NPM+, sorafenib not exposed","yr":10,"n":2},
{"p":"H","r":"NPM WT, sorafenib-exposed","yr":0,"n":37},{"p":"H","r":"NPM WT, sorafenib-exposed","yr":1,"n":30},{"p":"H","r":"NPM WT, sorafenib-exposed","yr":2,"n":25},{"p":"H","r":"NPM WT, sorafenib-exposed","yr":3,"n":22},{"p":"H","r":"NPM WT, sorafenib-exposed","yr":4,"n":17},{"p":"H","r":"NPM WT, sorafenib-exposed","yr":5,"n":8},{"p":"H","r":"NPM WT, sorafenib-exposed","yr":6,"n":3},{"p":"H","r":"NPM WT, sorafenib-exposed","yr":7,"n":0},{"p":"H","r":"NPM WT, sorafenib-exposed","yr":8,"n":0},{"p":"H","r":"NPM WT, sorafenib-exposed","yr":9,"n":0},{"p":"H","r":"NPM WT, sorafenib-exposed","yr":10,"n":0},
{"p":"H","r":"NPM WT, sorafenib not exposed","yr":0,"n":26},{"p":"H","r":"NPM WT, sorafenib not exposed","yr":1,"n":8},{"p":"H","r":"NPM WT, sorafenib not exposed","yr":2,"n":6},{"p":"H","r":"NPM WT, sorafenib not exposed","yr":3,"n":6},{"p":"H","r":"NPM WT, sorafenib not exposed","yr":4,"n":6},{"p":"H","r":"NPM WT, sorafenib not exposed","yr":5,"n":5},{"p":"H","r":"NPM WT, sorafenib not exposed","yr":6,"n":5},{"p":"H","r":"NPM WT, sorafenib not exposed","yr":7,"n":4},{"p":"H","r":"NPM WT, sorafenib not exposed","yr":8,"n":3},{"p":"H","r":"NPM WT, sorafenib not exposed","yr":9,"n":3},{"p":"H","r":"NPM WT, sorafenib not exposed","yr":10,"n":2}
]
},
"spacing":20,
"vconcat":[
{"spacing":3,"vconcat":[
{"spacing":6,"vconcat":[
{"spacing":38,"hconcat":[
{"spacing":4,"vconcat":[
{"width":248,"height":168,"title":{"text":"A"},
"encoding":{"x":{"field":"t","type":"quantitative","scale":{"domain":[0,10.15],"nice":false},"axis":{"title":"Time Since Study Entry (years)","values":[0,2,4,6,8,10],"format":"d"}},
"y":{"field":"s","type":"quantitative","scale":{"domain":[0,1],"nice":false},"axis":{"title":"OS (proportion)","values":[0.25,0.5,0.75,1],"format":".2~f"}}},
"layer":[
{"data":{"name":"curves"},"transform":[{"filter":"datum.p==='A'"}],"mark":{"type":"line","interpolate":"step-after","strokeWidth":1.3},"encoding":{"color":{"field":"a","type":"nominal","scale":{"domain":["exp","not"],"range":["#a0192f","#3c86c8"]},"legend":null},"strokeDash":{"field":"m","type":"nominal","scale":{"domain":["all","wt","pos"],"range":[[1,0],[1,0],[10,7]]},"legend":null}}},
{"data":{"name":"notes"},"transform":[{"filter":"datum.p==='A'"}],"mark":{"type":"text","align":"left","baseline":"middle","fontSize":8.7,"color":"#333"},"encoding":{"text":{"field":"label"}}}
]},
{"width":248,"height":{"step":14},
"encoding":{"y":{"field":"r","type":"nominal","scale":{"domain":["No. at risk:","Year","Sorafenib-exposed","Sorafenib not exposed"]},"axis":{"title":null,"domain":false,"ticks":false,"tickSize":0,"labelAlign":"left","labelPadding":13,"labelFontSize":8,"labelColor":"#333"}},
"x":{"field":"yr","type":"quantitative","scale":{"domain":[-5.12,10],"nice":false,"zero":false},"axis":null},
"text":{"field":"n"}},
"layer":[
{"data":{"name":"risk"},"transform":[{"filter":"datum.p==='A'"}],"mark":{"type":"text","fontSize":8,"color":"#333"}},
{"data":{"name":"years"},"mark":{"type":"text","fontSize":8,"color":"#333"}}
]}
]},
{"spacing":4,"vconcat":[
{"width":243,"height":168,"title":{"text":"B"},
"encoding":{"x":{"field":"t","type":"quantitative","scale":{"domain":[0,10],"nice":false},"axis":{"title":"Time Since Study Entry (years)","values":[0,2,4,6,8,10],"format":"d"}},
"y":{"field":"s","type":"quantitative","scale":{"domain":[0,1],"nice":false},"axis":{"title":"EFS (proportion)","values":[0.25,0.5,0.75,1],"format":".2~f"}}},
"layer":[
{"data":{"name":"curves"},"transform":[{"filter":"datum.p==='B'"}],"mark":{"type":"line","interpolate":"step-after","strokeWidth":1.3},"encoding":{"color":{"field":"a","type":"nominal","scale":{"domain":["exp","not"],"range":["#a0192f","#3c86c8"]},"legend":null},"strokeDash":{"field":"m","type":"nominal","scale":{"domain":["all","wt","pos"],"range":[[1,0],[1,0],[10,7]]},"legend":null}}},
{"data":{"name":"notes"},"transform":[{"filter":"datum.p==='B'"}],"mark":{"type":"text","align":"left","baseline":"middle","fontSize":7.3,"color":"#333"},"encoding":{"text":{"field":"label"}}}
]},
{"width":251,"height":{"step":14},
"encoding":{"y":{"field":"r","type":"nominal","scale":{"domain":["No. at risk:","Year","Sorafenib-exposed","Sorafenib not exposed"]},"axis":{"title":null,"domain":false,"ticks":false,"tickSize":0,"labelAlign":"left","labelPadding":6,"labelFontSize":8,"labelColor":"#333"}},
"x":{"field":"yr","type":"quantitative","scale":{"domain":[-5.4,10],"nice":false,"zero":false},"axis":null},
"text":{"field":"n"}},
"layer":[
{"data":{"name":"risk"},"transform":[{"filter":"datum.p==='B'"}],"mark":{"type":"text","fontSize":8,"color":"#333"}},
{"data":{"name":"years"},"mark":{"type":"text","fontSize":8,"color":"#333"}}
]}
]}
]},
{"spacing":39,"hconcat":[
{"spacing":12,"vconcat":[
{"width":244,"height":165,"title":{"text":"C"},
"encoding":{"x":{"field":"t","type":"quantitative","scale":{"domain":[0,10],"nice":false},"axis":{"title":"Time Since End of Induction I (years)","values":[0,2,4,6,8,10],"format":"d"}},
"y":{"field":"s","type":"quantitative","scale":{"domain":[0,1],"nice":false},"axis":{"title":"DFS (proportion)","values":[0.25,0.5,0.75,1],"format":".2~f"}}},
"layer":[
{"data":{"name":"curves"},"transform":[{"filter":"datum.p==='C'"}],"mark":{"type":"line","interpolate":"step-after","strokeWidth":1.3},"encoding":{"color":{"field":"a","type":"nominal","scale":{"domain":["exp","not"],"range":["#a0192f","#3c86c8"]},"legend":null},"strokeDash":{"field":"m","type":"nominal","scale":{"domain":["all","wt","pos"],"range":[[1,0],[1,0],[10,7]]},"legend":null}}},
{"data":{"name":"notes"},"transform":[{"filter":"datum.p==='C'"}],"mark":{"type":"text","align":"left","baseline":"middle","fontSize":7.3,"color":"#333"},"encoding":{"text":{"field":"label"}}}
]},
{"width":248,"height":{"step":14},
"encoding":{"y":{"field":"r","type":"nominal","scale":{"domain":["No. at risk:","Year","Sorafenib-exposed","Sorafenib not exposed"]},"axis":{"title":null,"domain":false,"ticks":false,"tickSize":0,"labelAlign":"left","labelPadding":13,"labelFontSize":8,"labelColor":"#333"}},
"x":{"field":"yr","type":"quantitative","scale":{"domain":[-5.12,10],"nice":false,"zero":false},"axis":null},
"text":{"field":"n"}},
"layer":[
{"data":{"name":"risk"},"transform":[{"filter":"datum.p==='C'"}],"mark":{"type":"text","fontSize":8,"color":"#333"}},
{"data":{"name":"years"},"mark":{"type":"text","fontSize":8,"color":"#333"}}
]}
]},
{"spacing":12,"vconcat":[
{"width":243,"height":165,"title":{"text":"D"},
"encoding":{"x":{"field":"t","type":"quantitative","scale":{"domain":[0,10],"nice":false},"axis":{"title":"Time Since End of Induction I (years)","values":[0,2,4,6,8,10],"format":"d"}},
"y":{"field":"s","type":"quantitative","scale":{"domain":[0,1],"nice":false},"axis":{"title":"RR (proportion)","values":[0,0.25,0.5,0.75,1],"format":".2~f"}}},
"layer":[
{"data":{"name":"curves"},"transform":[{"filter":"datum.p==='D'"}],"mark":{"type":"line","interpolate":"step-after","strokeWidth":1.3},"encoding":{"color":{"field":"a","type":"nominal","scale":{"domain":["exp","not"],"range":["#a0192f","#3c86c8"]},"legend":null},"strokeDash":{"field":"m","type":"nominal","scale":{"domain":["all","wt","pos"],"range":[[1,0],[1,0],[10,7]]},"legend":null}}},
{"data":{"name":"notes"},"transform":[{"filter":"datum.p==='D'"}],"mark":{"type":"text","align":"left","baseline":"middle","fontSize":7.3,"color":"#333"},"encoding":{"text":{"field":"label"}}}
]},
{"width":251,"height":{"step":14},
"encoding":{"y":{"field":"r","type":"nominal","scale":{"domain":["No. at risk:","Year","Sorafenib-exposed","Sorafenib not exposed"]},"axis":{"title":null,"domain":false,"ticks":false,"tickSize":0,"labelAlign":"left","labelPadding":6,"labelFontSize":8,"labelColor":"#333"}},
"x":{"field":"yr","type":"quantitative","scale":{"domain":[-5.4,10],"nice":false,"zero":false},"axis":null},
"text":{"field":"n"}},
"layer":[
{"data":{"name":"risk"},"transform":[{"filter":"datum.p==='D'"}],"mark":{"type":"text","fontSize":8,"color":"#333"}},
{"data":{"name":"years"},"mark":{"type":"text","fontSize":8,"color":"#333"}}
]}
]}
]}
]},
{"spacing":21,"hconcat":[
{"spacing":8,"vconcat":[
{"width":237,"height":164,"title":{"text":"E"},
"encoding":{"x":{"field":"t","type":"quantitative","scale":{"domain":[0,10],"nice":false},"axis":{"title":"Time Since Study Entry (years)","values":[0,2,4,6,8,10],"format":"d"}},
"y":{"field":"s","type":"quantitative","scale":{"domain":[0,1],"nice":false},"axis":{"title":"OS (proportion)","values":[0.25,0.5,0.75,1],"format":".2~f"}}},
"layer":[
{"data":{"name":"curves"},"transform":[{"filter":"datum.p==='E'"}],"mark":{"type":"line","interpolate":"step-after","strokeWidth":1.3},"encoding":{"color":{"field":"a","type":"nominal","scale":{"domain":["exp","not"],"range":["#a0192f","#3c86c8"]},"legend":null},"strokeDash":{"field":"m","type":"nominal","scale":{"domain":["all","wt","pos"],"range":[[1,0],[1,0],[10,7]]},"legend":null}}},
{"data":{"name":"notes"},"transform":[{"filter":"datum.p==='E'"}],"mark":{"type":"text","align":"left","baseline":"middle","fontSize":7,"color":"#333"},"encoding":{"text":{"field":"label"}}}
]},
{"width":256,"height":{"step":14},
"encoding":{"y":{"field":"r","type":"nominal","scale":{"domain":["No. at risk:","Year","NPM+, sorafenib-exposed","NPM+, sorafenib not exposed","NPM WT, sorafenib-exposed","NPM WT, sorafenib not exposed"]},"axis":{"title":null,"domain":false,"ticks":false,"tickSize":0,"labelAlign":"left","labelPadding":19,"labelFontSize":7.3,"labelColor":"#333"}},
"x":{"field":"yr","type":"quantitative","scale":{"domain":[-6,10],"nice":false,"zero":false},"axis":null},
"text":{"field":"n"}},
"layer":[
{"data":{"name":"risk"},"transform":[{"filter":"datum.p==='E'"}],"mark":{"type":"text","fontSize":7.5,"color":"#333"}},
{"data":{"name":"years"},"mark":{"type":"text","fontSize":7.5,"color":"#333"}}
]}
]},
{"spacing":8,"vconcat":[
{"width":237,"height":164,"title":{"text":"F"},
"encoding":{"x":{"field":"t","type":"quantitative","scale":{"domain":[0,10],"nice":false},"axis":{"title":"Time Since Study Entry (years)","values":[0,2,4,6,8,10],"format":"d"}},
"y":{"field":"s","type":"quantitative","scale":{"domain":[0,1],"nice":false},"axis":{"title":"EFS (proportion)","values":[0.25,0.5,0.75,1],"format":".2~f"}}},
"layer":[
{"data":{"name":"curves"},"transform":[{"filter":"datum.p==='F'"}],"mark":{"type":"line","interpolate":"step-after","strokeWidth":1.3},"encoding":{"color":{"field":"a","type":"nominal","scale":{"domain":["exp","not"],"range":["#a0192f","#3c86c8"]},"legend":null},"strokeDash":{"field":"m","type":"nominal","scale":{"domain":["all","wt","pos"],"range":[[1,0],[1,0],[10,7]]},"legend":null}}},
{"data":{"name":"notes"},"transform":[{"filter":"datum.p==='F'"}],"mark":{"type":"text","align":"left","baseline":"middle","fontSize":7,"color":"#333"},"encoding":{"text":{"field":"label"}}}
]},
{"width":261,"height":{"step":14},
"encoding":{"y":{"field":"r","type":"nominal","scale":{"domain":["No. at risk:","Year","NPM+, sorafenib-exposed","NPM+, sorafenib not exposed","NPM WT, sorafenib-exposed","NPM WT, sorafenib not exposed"]},"axis":{"title":null,"domain":false,"ticks":false,"tickSize":0,"labelAlign":"left","labelPadding":20,"labelFontSize":7.3,"labelColor":"#333"}},
"x":{"field":"yr","type":"quantitative","scale":{"domain":[-7.17,10],"nice":false,"zero":false},"axis":null},
"text":{"field":"n"}},
"layer":[
{"data":{"name":"risk"},"transform":[{"filter":"datum.p==='F'"}],"mark":{"type":"text","fontSize":7.5,"color":"#333"}},
{"data":{"name":"years"},"mark":{"type":"text","fontSize":7.5,"color":"#333"}}
]}
]}
]}
]},
{"spacing":19,"hconcat":[
{"spacing":8,"vconcat":[
{"width":237,"height":164,"title":{"text":"G"},
"encoding":{"x":{"field":"t","type":"quantitative","scale":{"domain":[0,10],"nice":false},"axis":{"title":"Time Since End of Induction I (years)","values":[0,2,4,6,8,10],"format":"d"}},
"y":{"field":"s","type":"quantitative","scale":{"domain":[0,1],"nice":false},"axis":{"title":"DFS (proportion)","values":[0.25,0.5,0.75,1],"format":".2~f"}}},
"layer":[
{"data":{"name":"curves"},"transform":[{"filter":"datum.p==='G'"}],"mark":{"type":"line","interpolate":"step-after","strokeWidth":1.3},"encoding":{"color":{"field":"a","type":"nominal","scale":{"domain":["exp","not"],"range":["#a0192f","#3c86c8"]},"legend":null},"strokeDash":{"field":"m","type":"nominal","scale":{"domain":["all","wt","pos"],"range":[[1,0],[1,0],[10,7]]},"legend":null}}},
{"data":{"name":"notes"},"transform":[{"filter":"datum.p==='G'"}],"mark":{"type":"text","align":"left","baseline":"middle","fontSize":7,"color":"#333"},"encoding":{"text":{"field":"label"}}}
]},
{"width":256,"height":{"step":12},
"encoding":{"y":{"field":"r","type":"nominal","scale":{"domain":["No. at risk:","Year","NPM+, sorafenib-exposed","NPM+, sorafenib not exposed","NPM WT, sorafenib-exposed","NPM WT, sorafenib not exposed"]},"axis":{"title":null,"domain":false,"ticks":false,"tickSize":0,"labelAlign":"left","labelPadding":19,"labelFontSize":7.3,"labelColor":"#333"}},
"x":{"field":"yr","type":"quantitative","scale":{"domain":[-6,10],"nice":false,"zero":false},"axis":null},
"text":{"field":"n"}},
"layer":[
{"data":{"name":"risk"},"transform":[{"filter":"datum.p==='G'"}],"mark":{"type":"text","fontSize":7.5,"color":"#333"}},
{"data":{"name":"years"},"mark":{"type":"text","fontSize":7.5,"color":"#333"}}
]}
]},
{"spacing":8,"vconcat":[
{"width":238,"height":164,"title":{"text":"H"},
"encoding":{"x":{"field":"t","type":"quantitative","scale":{"domain":[0,10],"nice":false},"axis":{"title":"Time Since End of Induction I (years)","values":[0,2,4,6,8,10],"format":"d"}},
"y":{"field":"s","type":"quantitative","scale":{"domain":[0,1],"nice":false},"axis":{"title":"RR (proportion)","values":[0.25,0.5,0.75,1],"format":".2~f"}}},
"layer":[
{"data":{"name":"curves"},"transform":[{"filter":"datum.p==='H'"}],"mark":{"type":"line","interpolate":"step-after","strokeWidth":1.3},"encoding":{"color":{"field":"a","type":"nominal","scale":{"domain":["exp","not"],"range":["#a0192f","#3c86c8"]},"legend":null},"strokeDash":{"field":"m","type":"nominal","scale":{"domain":["all","wt","pos"],"range":[[1,0],[1,0],[10,7]]},"legend":null}}},
{"data":{"name":"notes"},"transform":[{"filter":"datum.p==='H'"}],"mark":{"type":"text","align":"left","baseline":"middle","fontSize":7,"color":"#333"},"encoding":{"text":{"field":"label"}}}
]},
{"width":261,"height":{"step":12},
"encoding":{"y":{"field":"r","type":"nominal","scale":{"domain":["No. at risk:","Year","NPM+, sorafenib-exposed","NPM+, sorafenib not exposed","NPM WT, sorafenib-exposed","NPM WT, sorafenib not exposed"]},"axis":{"title":null,"domain":false,"ticks":false,"tickSize":0,"labelAlign":"left","labelPadding":20,"labelFontSize":7.3,"labelColor":"#333"}},
"x":{"field":"yr","type":"quantitative","scale":{"domain":[-7.17,10],"nice":false,"zero":false},"axis":null},
"text":{"field":"n"}},
"layer":[
{"data":{"name":"risk"},"transform":[{"filter":"datum.p==='H'"}],"mark":{"type":"text","fontSize":7.5,"color":"#333"}},
{"data":{"name":"years"},"mark":{"type":"text","fontSize":7.5,"color":"#333"}}
]}
]}
]}
],
"config":{
"font":"Liberation Sans",
"view":{"stroke":null},
"axis":{"domainColor":"#111","domainWidth":1,"tickColor":"#111","tickSize":4,"labelColor":"#222","labelFontSize":8.5,"labelPadding":2,"titleColor":"#111","titleFontWeight":"normal","grid":false},
"axisX":{"titleFontSize":11.5,"titlePadding":10,"titleFontWeight":"normal"},
"axisY":{"titleFontSize":11,"titlePadding":10,"titleFontWeight":"normal"},
"title":{"fontSize":17,"fontWeight":"bold","anchor":"start","frame":"bounds","offset":8,"color":"#111"}
}
}
